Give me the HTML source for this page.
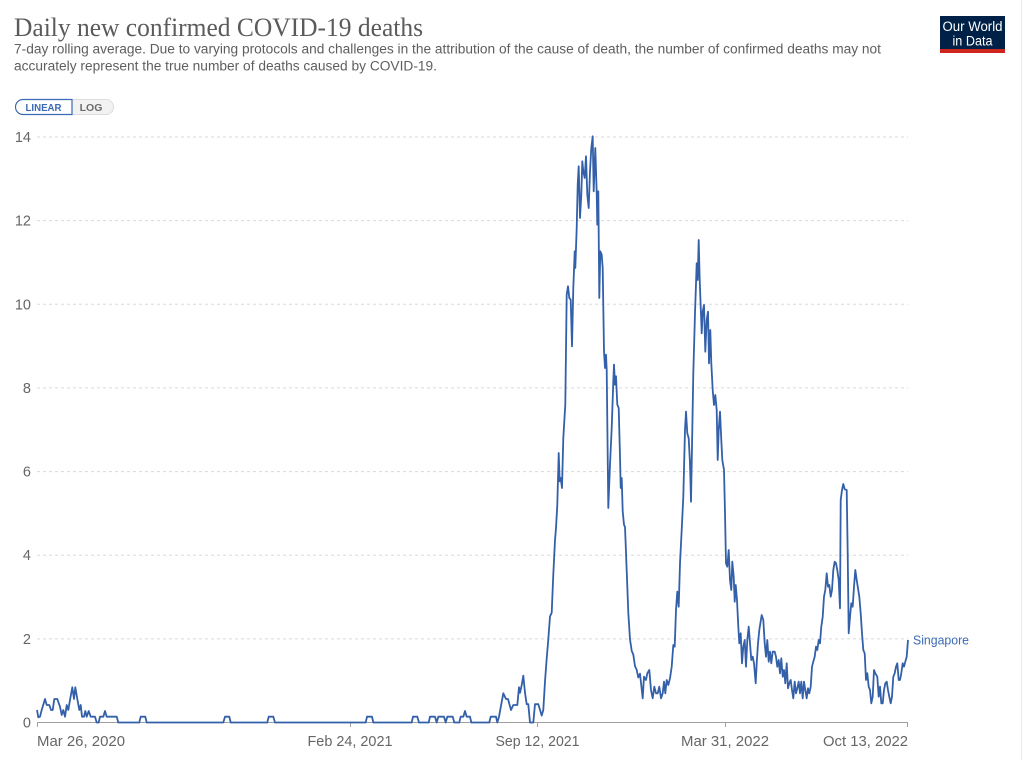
<!DOCTYPE html>
<html>
<head>
<meta charset="utf-8">
<style>
  html,body{margin:0;padding:0;background:#fff;}
  body{width:1024px;height:760px;overflow:hidden;}
  svg{display:block;}
  .sans{font-family:"Liberation Sans",Arial,sans-serif;}
  .serif{font-family:"Liberation Serif","Times New Roman",serif;}
</style>
</head>
<body>
<svg width="1024" height="760" viewBox="0 0 1024 760" xmlns="http://www.w3.org/2000/svg">
  <rect x="0" y="0" width="1024" height="760" fill="#fff"/>
  <!-- right card border -->
  <line x1="1021.5" y1="0" x2="1021.5" y2="760" stroke="#ececec" stroke-width="1"/>

  <!-- Title -->
  <text class="serif" x="14" y="36" font-size="26" fill="#5b5b5b" textLength="409" lengthAdjust="spacingAndGlyphs">Daily new confirmed COVID-19 deaths</text>
  <text class="sans" x="14" y="53.5" font-size="13.5" fill="#5e5e5e" textLength="867" lengthAdjust="spacingAndGlyphs">7-day rolling average. Due to varying protocols and challenges in the attribution of the cause of death, the number of confirmed deaths may not</text>
  <text class="sans" x="14" y="70.5" font-size="13.5" fill="#5e5e5e" textLength="423" lengthAdjust="spacingAndGlyphs">accurately represent the true number of deaths caused by COVID-19.</text>

  <!-- Logo -->
  <rect x="940" y="16" width="65" height="37" fill="#002147"/>
  <rect x="940" y="49" width="65" height="4" fill="#ce261e"/>
  <text class="sans" x="972.5" y="31" font-size="13.5" fill="#fff" text-anchor="middle" textLength="60" lengthAdjust="spacingAndGlyphs">Our World</text>
  <text class="sans" x="972.5" y="45.5" font-size="13.5" fill="#fff" text-anchor="middle" textLength="40" lengthAdjust="spacingAndGlyphs">in Data</text>

  <!-- Toggle -->
  <path d="M72 99.5 H106 a7.5 7.5 0 0 1 0 15 H72 Z" fill="#f2f2f2" stroke="#dcdcdc" stroke-width="1"/>
  <path d="M23 99.5 H72 V114.5 H23 a7.5 7.5 0 0 1 0 -15 Z" fill="#fff" stroke="#3c6ab5" stroke-width="1.2"/>
  <text class="sans" x="43.5" y="111" font-size="10.5" font-weight="bold" fill="#3c6ab5" text-anchor="middle" textLength="36" lengthAdjust="spacingAndGlyphs">LINEAR</text>
  <text class="sans" x="91" y="111" font-size="10.5" font-weight="bold" fill="#6b6b6b" text-anchor="middle">LOG</text>

  <!-- Gridlines -->
  <g stroke="#dadada" stroke-width="1" stroke-dasharray="3,3">
    <line x1="37" y1="137" x2="908" y2="137"/>
    <line x1="37" y1="220.6" x2="908" y2="220.6"/>
    <line x1="37" y1="304.3" x2="908" y2="304.3"/>
    <line x1="37" y1="387.9" x2="908" y2="387.9"/>
    <line x1="37" y1="471.6" x2="908" y2="471.6"/>
    <line x1="37" y1="555.2" x2="908" y2="555.2"/>
    <line x1="37" y1="638.9" x2="908" y2="638.9"/>
  </g>

  <!-- Y labels -->
  <g class="sans" font-size="14.5" fill="#666" text-anchor="end">
    <text x="31" y="142">14</text>
    <text x="31" y="225.6">12</text>
    <text x="31" y="309.3">10</text>
    <text x="31" y="392.9">8</text>
    <text x="31" y="476.6">6</text>
    <text x="31" y="560.2">4</text>
    <text x="31" y="643.9">2</text>
    <text x="31" y="727.5">0</text>
  </g>

  <!-- X axis -->
  <line x1="37" y1="722.5" x2="908" y2="722.5" stroke="#a0a0a0" stroke-width="1"/>
  <g stroke="#a0a0a0" stroke-width="1">
    <line x1="37.5" y1="722" x2="37.5" y2="727"/>
    <line x1="350.5" y1="722" x2="350.5" y2="727"/>
    <line x1="537.5" y1="722" x2="537.5" y2="727"/>
    <line x1="725.5" y1="722" x2="725.5" y2="727"/>
    <line x1="907.5" y1="722" x2="907.5" y2="727"/>
  </g>
  <g class="sans" font-size="15" fill="#666">
    <text x="37" y="746" textLength="88" lengthAdjust="spacingAndGlyphs">Mar 26, 2020</text>
    <text x="350" y="746" text-anchor="middle" textLength="85" lengthAdjust="spacingAndGlyphs">Feb 24, 2021</text>
    <text x="537.5" y="746" text-anchor="middle" textLength="84" lengthAdjust="spacingAndGlyphs">Sep 12, 2021</text>
    <text x="725" y="746" text-anchor="middle" textLength="88" lengthAdjust="spacingAndGlyphs">Mar 31, 2022</text>
    <text x="908" y="746" text-anchor="end" textLength="85" lengthAdjust="spacingAndGlyphs">Oct 13, 2022</text>
  </g>

  <!-- Series -->
  <polyline fill="none" stroke="#3360a9" stroke-width="1.8" stroke-linejoin="round" points="
37,710 38.3,717.3 40,716.7 41.7,710 45,699 46.7,705 49.3,705 51,710 52.7,710 54.3,699 57.3,699 60,706.7 61.7,715 63.3,710 65,716.7 66.7,705 68.3,710 70,700 72.3,687.3 74,699 75.3,687.3 77.3,699 79.3,710 80.7,705 82,716.7 84,716.7 85.3,711 86.7,716.7 88.7,711 90.7,716.7 95,716.7 96.7,722.5 98.7,722.5 100,716.7 103.3,716.7 105,711 106.7,716.7 116.7,716.7 118.3,722.5 139.3,722.5 140.7,716.7 145.3,716.7 146.7,722.5 223.3,722.5 225,716.7 229.3,716.7 230.7,722.5 267.3,722.5 268.7,716.7 273.3,716.7 275,722.5 365.7,722.5 367,716.7 372,716.7 373.3,722.5 411.7,722.5 413,716.7 417.3,716.7 419,722.5 428.7,722.5 430,716.7 435,716.7 436.7,722.5 438.3,716.7 444,716.7 445.7,722.5 447.3,716.7 452.7,716.7 454.3,722.5 459.3,722.5 460.7,716.7 463.3,716.7 465,711 466.7,716.7 470,716.7 471.3,722.5 489.3,722.5 490.7,716.7 496,716.7 497.3,722.5 499,716.7 503.3,693.3 506,699 508,699 511,710 513.3,705 517.3,705 519,687.3
520,692.8 521.7,685.1 523.3,675.6 525,692.8 526.7,704.2 528.3,704.2 530,722.5 533.3,722.5 535,704.2 538.3,704.2 540,709.9 541.7,715.6 543.3,709.9 545,681.3 546.7,658.4 548.3,639.4 550,616.5 551.7,612.7 553.3,574.6 555,540.2
556,528 557.3,504.7 558.7,453 559.7,481.3 560.7,478 562,488 563.3,438 565.3,404.7 566.7,294.7 568,286.3 569.3,298 570.7,299.7 572,346.3 573.3,288 574.7,251.3 575.3,268 576.7,228 577.7,184.7 578.7,166.3 580,218 581.3,194.7 582.3,161.3 583.3,171.3 584.7,178 586,156.3 587.3,194.7 588.7,208 590,171.3 591.3,148 592.7,136.3 593.7,191.3 595.3,148 596.7,193 597.3,224.7 598.3,191.3 599.3,298 600.3,251.3 601.7,254.7 602.7,268 604,351.3 605,368 606,354.7 606.7,369.7 608.3,508 610,464.7 611.7,428 613.3,381.3 614,364.7 615,384.7 616,376.3 617.3,404.7 618.7,408 620,456.3 620.7,488 621.7,478 622.7,511.3 624,524.7
625,526.9 626.7,570.7 628.3,612.7 630,639.4 631.7,650.8 633.3,654.6 635,666.1 636.7,669.9 638.3,677.5 640,673.7
642.7,698.3 644,676.7 646,680 647.3,673.3 649.3,670 651,690 652.7,698.3 654.3,686.7 656,693.3 657.7,693.3 659.3,686.7 661,698.3 662.7,693.3 664,681.7 665.3,693.3 666.7,680 668.3,685 670,678.3 671.7,666.7 673.3,645 674.7,646.7 676,610 677.3,591.7 678.7,606.7 680,563.3 681.7,530 683.3,496.7 685,430 686,411.7 687.3,433.3 688.7,438.3 690,463.3 691,501.7 692,446.7 693.3,373.3 695,313.3 696.7,263.3 697.7,280 698.7,240 699.7,280 700.7,306.7 701.7,333.3 702.7,311.7 704,305 705.3,351.7 706.7,320 708,311.7 709,363.3 710.3,330 711.3,363.3 712.7,390 714,405 715.3,395 716.7,410 717.7,460 718.7,430 720,411.7 721.3,440 722.3,460 724,470 725,513.3 726,563.3 727.3,566.7 728.7,550 730,580 731.3,590 732.3,561.7 733.7,576.7 734.7,601.7 735.7,585 737,600 738.3,626.7 739.3,643.3 740.7,633.3 742,663.3 743.3,646.7 744.7,640 746,666.7 747.3,640 748.7,626.7 750,643.3 751.3,660 752.7,656.7 754,663.3 755.7,683.3 756.7,663.3 758,643.3 759.3,630
761.7,615 763.3,620 764.7,643.3 766,656.7 767.3,640 768.7,661.7 770,651.7 771.3,663.3 772.7,651.7 774.7,651.7 776,656.7 777.3,666.7 778.7,660 780,673.3 781.3,658.3 782.7,676.7 784,670 785.3,683.3 786.7,663.3 788,688.3 789.3,683.3 790.7,680 792,690 793.3,698.3 794.7,681.7 796,693.3 797.3,688.3 798.7,681.7 800,693.3 801.3,681.7 802.7,698.3 804,681.7 805.3,690 806.7,698.3 808,688.3 809.3,693.3 810.7,686.7 812,666.7 813.3,661.7 814.7,656.7 816,646.7 817.3,650 818.7,640 820,643.3 821.3,626.7 822.7,616.7 824,596.7 825.3,590 826.7,573.3 828,586.7 829.3,585 830.7,596.7 832,590 833.3,570 834.7,561.7 836,563.3 837.3,570 838.7,580 840,608.3 840.7,500 842,490 843.3,484 844.7,489.3 846.7,490 847.7,553.3 848.7,633.3 850,616.7 851.3,603.3 852.7,606.7 854,586.7 855.3,570 856.7,580 858,588.3 859.3,596.7 860.7,613.3 862,633.3 863.3,650 864.7,653.3 866,680 867.3,673.3 868.7,686.7 870,690 871.3,703.3 872.7,696.7 874,670 875.3,673.3 877.3,676.7 878.7,696.7 880,686.7 881.3,703.3 882.7,703.3 884,690 885.3,683.3 886.7,681.7 888,690 889.3,696.7 890.7,703.3 892,696.7 893.3,676.7 894.7,673.3 896,666.7 897.3,663.3 898.7,680 900,680 901.3,673.3 902.7,663.3 904,666.7 905.3,661.7 906.7,656.7 908,640
"/>

  <!-- Series label -->
  <text class="sans" x="913" y="644.5" font-size="13" fill="#3c6ab5" textLength="56" lengthAdjust="spacingAndGlyphs">Singapore</text>
</svg>
</body>
</html>
